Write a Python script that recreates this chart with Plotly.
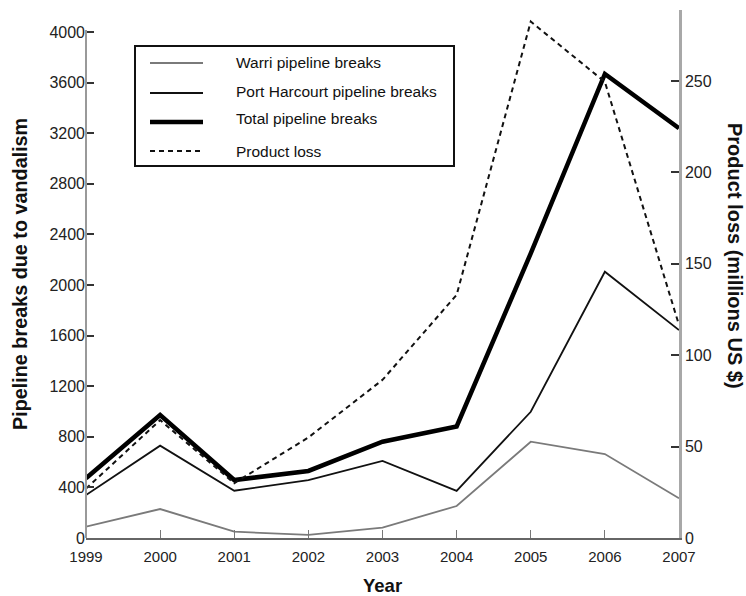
import plotly.graph_objects as go

# Pipeline breaks due to vandalism and product loss, Nigeria 1999-2007
years = [1999, 2000, 2001, 2002, 2003, 2004, 2005, 2006, 2007]
warri_breaks = [90, 229, 50, 24, 82, 253, 761, 664, 314]
port_harcourt_breaks = [340, 730, 374, 458, 609, 372, 998, 2105, 1644]
total_breaks = [472, 972, 458, 530, 761, 882, 2250, 3668, 3239]
product_loss = [27, 64.5, 30, 55, 86.5, 133, 282.5, 249.5, 116.5]

left_ticks = list(range(0, 4001, 400))
right_ticks = list(range(0, 251, 50))

series_names = ["Warri pipeline breaks", "Port Harcourt pipeline breaks",
                "Total pipeline breaks", "Product loss"]

FONT = "Liberation Sans, Arial, Helvetica, sans-serif"
W, H = 746, 596
M_L, M_R, M_T, M_B = 86, 67, 10, 58
PLOT_W = W - M_L - M_R
PLOT_H = H - M_T - M_B


def px_x(px):
    return (px - M_L) / PLOT_W


def px_y(py):
    return (H - M_B - py) / PLOT_H


# left axis: 4000 sits 506 px above the baseline, the frame is 528 px tall
left_max = 4000 * PLOT_H / 506
right_max = PLOT_H / 1.828

styles = [
    dict(color="#7a7a7a", width=1.8),
    dict(color="#111111", width=1.8),
    dict(color="#000000", width=4.5),
    dict(color="#111111", width=2, dash="5px,4px"),
]

fig = go.Figure()
for name, vals, st in zip(series_names[:3],
                          [warri_breaks, port_harcourt_breaks, total_breaks],
                          styles[:3]):
    fig.add_trace(go.Scatter(x=years, y=vals, mode="lines", name=name,
                             line=st, showlegend=False, yaxis="y"))
fig.add_trace(go.Scatter(x=years, y=product_loss, mode="lines",
                         name=series_names[3], line=styles[3],
                         showlegend=False, yaxis="y2"))

fig.update_layout(
    width=W, height=H,
    margin=dict(l=M_L, r=M_R, t=M_T, b=M_B, pad=0),
    paper_bgcolor="white", plot_bgcolor="white",
    font=dict(family=FONT, color="#222222", size=16),
    xaxis=dict(range=[1999, 2007], tickvals=years, ticks="inside",
               ticklen=8, tickwidth=1.2, tickcolor="#777777",
               showline=True, linecolor="#666666", linewidth=2,
               showgrid=False, zeroline=False, tickfont=dict(size=15),
               ticklabelstandoff=4),
    yaxis=dict(range=[0, left_max], tickvals=left_ticks, ticks="inside",
               ticklen=8, tickwidth=1.5, tickcolor="#333333",
               showline=False, showgrid=False, zeroline=False,
               tickfont=dict(size=16)),
    yaxis2=dict(range=[0, right_max], tickvals=right_ticks, ticks="inside",
                ticklen=8, tickwidth=1.5, tickcolor="#333333",
                overlaying="y", side="right",
                showline=True, linecolor="#a8a8a8", linewidth=2.5,
                showgrid=False, zeroline=False, tickfont=dict(size=16)),
)

shapes = [
    # left axis line stops at the top tick
    dict(type="line", xref="paper", yref="y", x0=0, x1=0, y0=0, y1=4015,
         line=dict(color="#999999", width=2)),
    # legend frame
    dict(type="rect", xref="paper", yref="paper",
         x0=px_x(135), x1=px_x(454), y0=px_y(166), y1=px_y(46),
         line=dict(color="#111111", width=2), fillcolor="white", layer="above"),
]
annotations = []
sample_rows = [63, 93, 122, 151]
text_rows = [63, 92, 119, 151]
for name, st, sy, ty in zip(series_names, styles, sample_rows, text_rows):
    shapes.append(dict(type="line", xref="paper", yref="paper",
                       x0=px_x(150), x1=px_x(203), y0=px_y(sy), y1=px_y(sy),
                       line=st, layer="above"))
    annotations.append(dict(text=name, xref="paper", yref="paper",
                            x=px_x(234), y=px_y(ty), xanchor="left",
                            yanchor="middle", showarrow=False,
                            font=dict(size=15.5, color="#111111")))

annotations += [
    dict(text="<b>Pipeline breaks due to vandalism</b>", xref="paper",
         yref="paper", x=px_x(20), y=px_y(274), textangle=-90,
         xanchor="center", yanchor="middle", showarrow=False,
         font=dict(size=19.8, color="#111111")),
    dict(text="<b>Product loss (millions US $)</b>", xref="paper",
         yref="paper", x=px_x(735), y=px_y(256), textangle=90,
         xanchor="center", yanchor="middle", showarrow=False,
         font=dict(size=20, color="#111111")),
    dict(text="<b>Year</b>", xref="paper", yref="paper", x=px_x(382),
         y=px_y(585), xanchor="center", yanchor="middle", showarrow=False,
         font=dict(size=18.5, color="#111111")),
]
fig.update_layout(shapes=shapes, annotations=annotations)

fig.write_html("out.html")
